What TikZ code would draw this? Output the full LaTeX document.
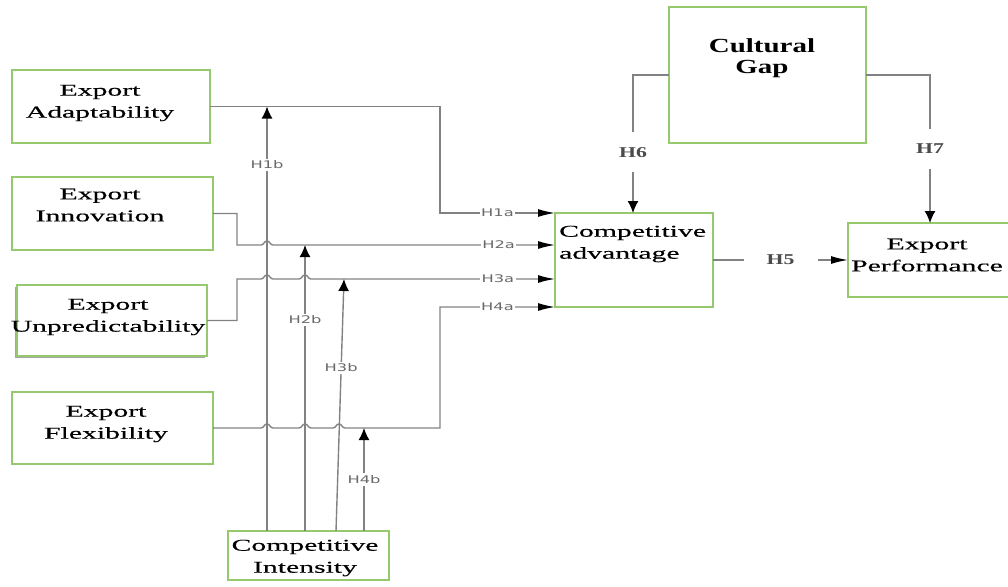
\documentclass[tikz,border=0pt]{standalone}
\usepackage{fontspec}
\setmainfont{Liberation Serif}
\newfontfamily\boxfont[FakeStretch=1.8, FakeBold=0.35]{Liberation Serif}
\newfontfamily\gapfont[FakeStretch=1.45]{Liberation Serif}
\newfontfamily\hsans[FakeStretch=1.55]{DejaVu Sans}
\usetikzlibrary{arrows.meta,calc}

\definecolor{boxgreen}{RGB}{150,200,110}
\definecolor{wire}{RGB}{130,130,130}
\definecolor{hlabel}{RGB}{105,105,105}
\definecolor{hserif}{RGB}{75,75,75}

\tikzset{
  box/.style={draw=boxgreen, line width=1.5pt, fill=white, inner sep=0pt, outer sep=0pt, anchor=north west},
  boxtext/.style={font={\boxfont\fontsize{16.5}{22}\selectfont}, align=center, inner sep=0pt, text=black},
  wire/.style={draw=wire, line width=1.4pt},
  harr/.style={-{Latex[length=17pt,width=8pt,color=black]}},
  varr/.style={-{Latex[length=12pt,width=11pt,color=black]}},
  hl/.style={font={\hsans\fontsize{10.5}{12}\selectfont}, text=hlabel, fill=white, inner xsep=1.5pt, inner ysep=2pt},
  hs/.style={font={\gapfont\bfseries\fontsize{15}{18}\selectfont}, text=hserif, fill=white, inner sep=0pt},
  hop/.style={insert path={.. controls +(3,0) and +(-3,0) .. ++(6,-4) .. controls +(3,0) and +(-3,0) .. ++(6,4)}}
}

\begin{document}
\begin{tikzpicture}[x=1pt, y=-1pt]
\useasboundingbox (0,0) rectangle (1008,586);
\clip (0,0) rectangle (1008,586);

% boxes
\node[box, minimum width=198pt, minimum height=73pt] (ad) at (12,70) {};
\node[box, minimum width=201pt, minimum height=73pt] (in) at (12,177) {};
\fill[gray!70] (15,287) rectangle (205,358);
\node[box, minimum width=190pt, minimum height=71pt] (un) at (17,285) {};
\node[box, minimum width=201pt, minimum height=72pt] (fl) at (12,392) {};
\node[box, minimum width=161pt, minimum height=49pt] (ci) at (228,531) {};
\node[box, minimum width=158pt, minimum height=94pt] (ca) at (555,213) {};
\node[box, minimum width=170pt, minimum height=74pt] (ep) at (848,223) {};
\node[box, minimum width=197pt, minimum height=136pt] (cg) at (669,7) {};

% box texts
\node[boxtext] (adT) at (100,103) {Export\\Adaptability};
\node[boxtext] (inT) at (100,205) {Export\\Innovation};
\node[boxtext] (unT) at (108,317) {Export\\Unpredictability};
\node[boxtext] (flT) at (106,424) {Export\\Flexibility};
\node[boxtext] (ciT) at (305,558) {Competitive\\Intensity};
\node[boxtext, align=left, anchor=west] (caT) at (559,244) {Competitive\\advantage};
\node[boxtext] (epT) at (927,255) {Export\\Performance};
\node[font={\gapfont\bfseries\fontsize{20}{21}\selectfont}, align=center, inner sep=0pt] (cgT) at (762,58) {Cultural\\Gap};

% reference levels
\coordinate (yH2) at (0,245);
\coordinate (yH3) at (0,279);
\coordinate (v1) at (267,0);
\coordinate (v2) at (305,0);
\coordinate (v3a) at (336,0);
\coordinate (v3b) at (344,0);
\coordinate (v4) at (364,0);
\coordinate (v6) at (633,0);
\coordinate (v7) at (930,0);

% direct effects on competitive advantage
\draw[wire, harr] (ad.east) -| (440,213) -- node[hl]{H1a} (ca.north west);
\draw[wire, harr] (in.east) -| (237,245) -- (261,245) [hop]
  -- node[hl, pos=0.8]{H2a} (ca.west |- yH2);
\draw[wire, harr] (un.east) -| (237,279) -- (261,279) [hop] -- (299,279) [hop]
  -- node[hl, pos=0.766]{H3a} (ca.west |- yH3);
\draw[wire, harr] (fl.east) -- (261,428) [hop] -- (299,428) [hop] -- (333,428) [hop]
  -- (440,428) -- (440,307) -- node[hl]{H4a} (ca.south west);

% moderating effects of competitive intensity
\draw[wire, varr] (ci.north -| v1) -- node[hl, pos=0.862]{H1b} (v1 |- ad.east);
\draw[wire, varr] (ci.north -| v2) -- node[hl, pos=0.738]{H2b} (v2 |- yH2);
\draw[wire, varr] (ci.north -| v3a) -- node[hl, pos=0.647]{H3b} (v3b |- yH3);
\draw[wire, varr] (ci.north -| v4) -- node[hl, pos=0.5]{H4b} (v4 |- fl.east);

% competitive advantage to export performance
\draw[wire, harr] (ca.east) -- node[hs, minimum width=74pt, minimum height=14pt]{H5} (ep.west |- ca.east);

% cultural gap
\draw[wire, varr] (cg.west) -| node[hs, pos=0.78, minimum height=40pt, minimum width=30pt]{H6} (v6 |- ca.north);
\draw[wire, varr] (cg.east) -| node[hs, pos=0.75, minimum height=40pt, minimum width=30pt]{H7} (v7 |- ep.north);
\end{tikzpicture}
\end{document}
